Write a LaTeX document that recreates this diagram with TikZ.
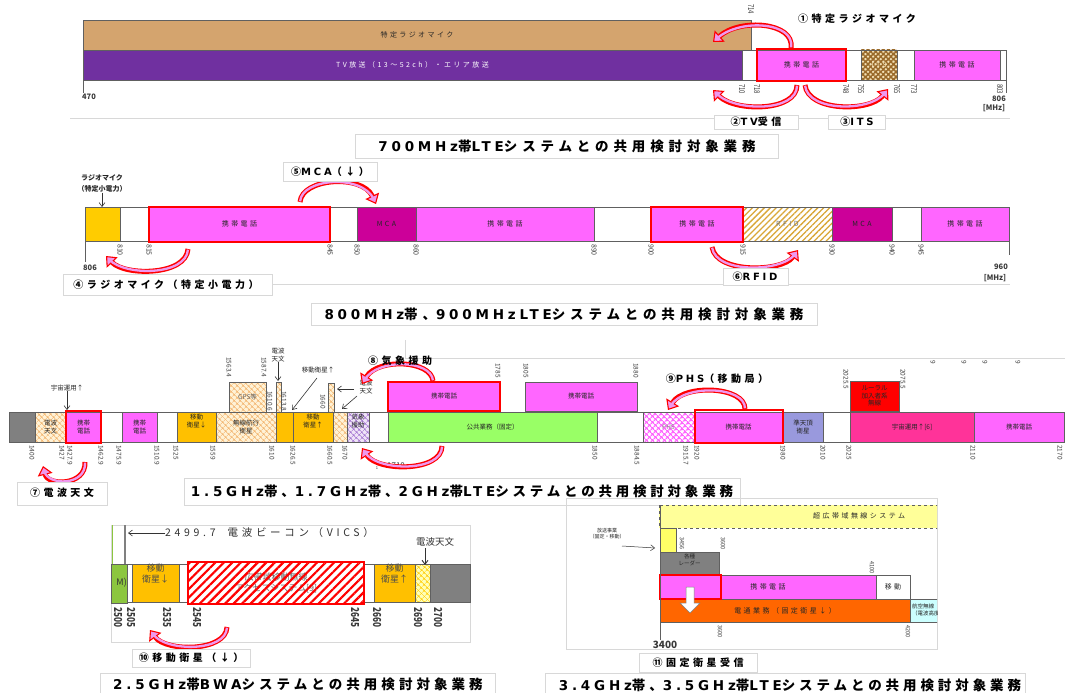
\documentclass[tikz,border=0pt]{standalone}
\usepackage{fontspec}
\usepackage{graphicx}
\setmainfont{Noto Sans CJK JP}
\newfontfamily\jpw[LetterSpace=35]{Noto Sans CJK JP}
\newfontfamily\jpc[LetterSpace=36]{Noto Sans CJK JP}
\newfontfamily\latb[LetterSpace=28]{DejaVu Sans}
\usetikzlibrary{arrows.meta,patterns.meta}
\definecolor{tanc}{HTML}{D4A46E}
\definecolor{purp}{HTML}{7030A0}
\definecolor{pinkc}{HTML}{FF66FF}
\definecolor{mcac}{HTML}{CC0099}
\definecolor{yelc}{HTML}{FFC000}
\definecolor{micc}{HTML}{FFCC00}
\definecolor{grnc}{HTML}{99FF66}
\definecolor{lavc}{HTML}{9999DD}
\definecolor{hotc}{HTML}{FF3399}
\definecolor{orgc}{HTML}{FF6600}
\definecolor{cyac}{HTML}{CCFFFF}
\definecolor{ltyc}{HTML}{FFFF99}
\definecolor{yl2c}{HTML}{FFFF66}
\definecolor{gryc}{HTML}{808080}
\definecolor{arrp}{HTML}{EE99EE}
\definecolor{bdc}{HTML}{606060}
\definecolor{fntc}{HTML}{D8D8D8}
\definecolor{tkc}{HTML}{3A3A3A}
\definecolor{creamc}{HTML}{FFF2D6}
\definecolor{hatc}{HTML}{F2B36B}
\definecolor{itsb}{HTML}{9A6A2A}
\definecolor{itsf}{HTML}{F3E2B8}
\definecolor{rfidc}{HTML}{D9A636}
\definecolor{wxf}{HTML}{EFE3F7}
\definecolor{wxh}{HTML}{A070D0}
\definecolor{bwgrn}{HTML}{8CC63F}
\definecolor{ruralc}{HTML}{FF0000}
\tikzset{
 blk/.style={draw=bdc, line width=0.5pt},
 xo/.style={preaction={fill=creamc}, pattern={Hatch[angle=45,distance=4pt,line width=0.6pt]}, pattern color=hatc},
 its/.style={preaction={fill=itsf}, pattern={Hatch[angle=45,distance=3.6pt,line width=1.5pt]}, pattern color=itsb},
 rfid/.style={preaction={fill=white}, pattern={Lines[angle=45,distance=4.2pt,line width=1.3pt]}, pattern color=rfidc},
 phs/.style={preaction={fill=white}, pattern={Hatch[angle=45,distance=4pt,line width=1.3pt]}, pattern color=pinkc},
 wx/.style={preaction={fill=wxf}, pattern={Hatch[angle=45,distance=4pt,line width=0.6pt]}, pattern color=wxh},
 lb/.style={font=\jpw\fontsize{7}{8}\selectfont, align=center, inner sep=0pt, text=black!85},
 lb3/.style={font=\fontsize{6.5}{7.8}\selectfont, align=center, inner sep=0pt, text=black!85},
 lb4/.style={font=\fontsize{9}{11.5}\selectfont, align=center, inner sep=0pt, text=black!70},
 tk/.style={rotate=-90, anchor=west, inner sep=0pt, text=tkc, font=\fontsize{7}{8}\selectfont},
 num/.style={inner sep=0pt, text=tkc, font=\bfseries\fontsize{7.5}{8}\selectfont},
 captxt/.style={font=\jpc\bfseries\fontsize{13.5}{15}\selectfont, inner sep=0pt},
 notetxt/.style={font=\jpw\bfseries\fontsize{10}{12}\selectfont, inner sep=0pt},
 fbox/.style={draw=fntc, fill=white, line width=0.6pt},
 fline/.style={draw=fntc, line width=0.6pt},
 redbox/.style={draw=red, line width=2pt},
 fatout/.style={draw=red, line width=5pt, -{Triangle[length=9pt,width=15pt,fill=arrp,line width=1.1pt]}},
 fatin/.style={draw=arrp, line width=2.3pt, shorten >=5.5pt, shorten <=0.7pt},
 thinarr/.style={draw=black!80, line width=0.6pt, -{Straight Barb[length=4pt,width=6pt]}},
}
\newcounter{nd}
\newcommand\band[7]{\draw[blk,#1] (#2,#3) rectangle (#4,#5);\stepcounter{nd}\node[lb,#6] (b\arabic{nd}) at ({(#2+#4)/2},{(#3+#5)/2}) {#7};}
\newcommand\gap[4]{\draw[blk,fill=white] (#1,#2) rectangle (#3,#4);}
\newcommand\tksc{1}
\newcommand\tkl[3]{\stepcounter{nd}\node[tk] (t\arabic{nd}) at (#1,#2) {\scalebox{\tksc}[1]{#3}};}
\newcommand\fatarrow[1]{\draw[fatout] #1; \draw[fatin] #1;}
\newcommand\lt[1]{{\latb #1}}
\begin{document}
\begin{tikzpicture}[x=1pt,y=-1pt]
\useasboundingbox (0,0) rectangle (1065,693);
\fill[white] (0,0) rectangle (1065,693);

%%%%%%%%%%%%%%%% Section 1 : 700MHz
\draw[fline] (70,118) -- (1010,118);
\band{fill=tanc}{83}{20}{751}{50}{}{特定ラジオマイク}
\band{fill=purp}{83}{50}{742}{80}{text=white}{TV放送（13〜52ch）・エリア放送}
\gap{742}{50}{757}{80}
\band{fill=pinkc}{757}{50}{846}{80}{}{携帯電話}
\gap{846}{50}{861}{80}
\band{its}{861}{50}{897}{80}{text=itsf}{ITS}
\gap{897}{50}{914}{80}
\band{fill=pinkc}{914}{50}{1000}{80}{}{携帯電話}
\gap{1000}{50}{1006}{80}
\draw[redbox] (757,49) rectangle (846,81);
\draw[bdc] (83,80) -- (83,93) (1006,80) -- (1006,93);
\renewcommand\tksc{0.75}
\begin{scope}[tk/.append style={font=\fontsize{8}{9}\selectfont}]
\tkl{751}{4}{714}
\tkl{742}{84}{710}\tkl{757}{84}{718}\tkl{846}{84}{748}\tkl{861}{84}{755}
\tkl{897}{84}{765}\tkl{914}{84}{773}\tkl{1000}{84}{803}
\end{scope}
\node[num] (l470) at (89,97) {470};
\node[num] (l806) at (999,99) {806};
\node[num] (lmhz1) at (994,108) {[MHz]};
\coordinate (a1s) at (791,48); \coordinate (a1e) at (713,42);
\fatarrow{(a1s) .. controls (795,22) and (740,18) .. (a1e)}
\coordinate (a2s) at (797,85); \coordinate (a2e) at (713,90);
\fatarrow{(a2s) .. controls (797,112) and (735,112) .. (a2e)}
\coordinate (a3s) at (805,85); \coordinate (a3e) at (888,89);
\fatarrow{(a3s) .. controls (808,112) and (870,112) .. (a3e)}
\node[notetxt] (n1) at (857,19) {①特定ラジオマイク};
\draw[fbox] (714,115) rectangle (798,129); \node[notetxt] (n2) at (756,122) {②\lt{TV}受信};
\draw[fbox] (828,115) rectangle (885,129); \node[notetxt] (n3) at (857,122) {③\lt{ITS}};
\draw[fbox] (355,134) rectangle (778,158);
\node[captxt] (c1) at (567,146) {\lt{700MHz}帯\lt{LTE}システムとの共用検討対象業務};

%%%%%%%%%%%%%%%% Section 2 : 800/900MHz
\draw[fline] (272,284) -- (1010,284);
\draw[blk,fill=micc] (85,207) rectangle (120,241);
\gap{120}{207}{149}{241}
\band{fill=pinkc}{149}{207}{330}{241}{}{携帯電話}
\gap{330}{207}{357}{241}
\band{fill=mcac}{357}{207}{416}{241}{}{MCA}
\band{fill=pinkc}{416}{207}{594}{241}{}{携帯電話}
\gap{594}{207}{651}{241}
\band{fill=pinkc}{651}{207}{743}{241}{}{携帯電話}
\band{rfid}{743}{207}{832}{241}{text=black!55}{RFID}
\band{fill=mcac}{832}{207}{892}{241}{}{MCA}
\gap{892}{207}{921}{241}
\band{fill=pinkc}{921}{207}{1009}{241}{}{携帯電話}
\draw[redbox] (149,207) rectangle (330,242);
\draw[redbox] (651,207) rectangle (743,242);
\draw[bdc] (85,241) -- (85,262) (1009,241) -- (1009,255);
\renewcommand\tksc{1}
\tkl{120}{244}{810}\tkl{149}{244}{815}\tkl{330}{244}{845}\tkl{357}{244}{850}
\tkl{416}{244}{860}\tkl{594}{244}{890}\tkl{651}{244}{900}\tkl{743}{244}{915}
\tkl{832}{244}{930}\tkl{892}{244}{940}\tkl{921}{244}{945}
\node[num] (l806b) at (90,268) {806};
\node[num] (l960) at (1001,267) {960};
\node[num] (lmhz2) at (995,278) {[MHz]};
\node[lb3, font=\bfseries\fontsize{7}{8}\selectfont] (rm1) at (102,178) {ラジオマイク};
\node[lb3, font=\bfseries\fontsize{7}{8}\selectfont] (rm2) at (102,189) {（特定小電力）};
\coordinate (rmt) at (102,207);
\draw[thinarr] (rm2.south) -- (rmt);
\coordinate (a5s) at (300,202); \coordinate (a5e) at (376,204);
\fatarrow{(a5s) .. controls (302,178) and (362,174) .. (a5e)}
\coordinate (a4s) at (188,249); \coordinate (a4e) at (106,256);
\fatarrow{(a4s) .. controls (186,276) and (125,276) .. (a4e)}
\coordinate (a6s) at (712,247); \coordinate (a6e) at (798,250);
\fatarrow{(a6s) .. controls (716,274) and (782,272) .. (a6e)}
\draw[fbox] (283,162) rectangle (377,181); \node[notetxt] (n5) at (330,172) {⑤\lt{MCA}（↓）};
\draw[fbox] (63,274) rectangle (272,295); \node[notetxt] (n4) at (166,285) {④ラジオマイク（特定小電力）};
\draw[fbox] (723,268) rectangle (788,285); \node[notetxt] (n6) at (755,277) {⑥\lt{RFID}};
\draw[fbox] (311,303) rectangle (817,325);
\node[captxt] (c2) at (564,314) {\lt{800MHz}帯、\lt{900MHzLTE}システムとの共用検討対象業務};

%%%%%%%%%%%%%%%% Section 3 : 1.5/1.7/2GHz
\draw[fline] (405,340) -- (405,358) -- (1065,358);
\draw[blk,fill=gryc] (9,412) rectangle (35,442);
\band{xo}{35}{412}{66}{442}{lb3}{電波\\天文}
\band{fill=pinkc}{66}{412}{101}{442}{lb3}{携帯\\電話}
\gap{101}{412}{122}{442}
\band{fill=pinkc}{122}{412}{157}{442}{lb3}{携帯\\電話}
\gap{157}{412}{177}{442}
\band{fill=yelc}{177}{412}{216}{442}{lb3}{移動\\衛星↓\\[4]}
\band{xo}{216}{412}{276}{442}{lb3}{無線航行\\衛星}
\draw[blk,fill=yelc] (276,412) rectangle (293,442);
\draw[black,line width=1pt] (293,412) -- (293,442);
\band{fill=yelc}{293}{412}{333}{442}{lb3}{移動\\衛星↑\\[4]}
\draw[blk,xo] (333,412) rectangle (347,442);
\band{wx}{347}{412}{369}{442}{lb3}{気象\\援助\\[5]}
\draw[bdc,line width=0.5pt] (369,412) -- (388,412) (369,442) -- (388,442);
\band{fill=grnc}{388}{412}{597}{442}{lb3}{公共業務（固定）}
\gap{597}{412}{643}{442}
\band{phs}{643}{412}{694}{442}{lb3,text=black!45}{PHS}
\band{fill=pinkc}{694}{412}{783}{442}{lb3}{携帯電話}
\band{fill=lavc}{783}{412}{823}{442}{lb3}{準天頂\\衛星}
\gap{823}{412}{850}{442}
\band{fill=hotc}{850}{412}{974}{442}{lb3}{宇宙運用↑[6]}
\band{fill=pinkc}{974}{412}{1064}{442}{lb3}{携帯電話}
\draw[blk,fill=lavc] (1064,412) rectangle (1070,442);
% upper row
\band{xo}{229}{382}{266}{412}{lb3,text=black!60}{GPS等}
\draw[blk,xo] (276,382) rectangle (281,412);
\draw[blk,xo] (328,383) rectangle (334,412);
\band{fill=pinkc}{388}{382}{500}{411}{lb3}{携帯電話}
\band{fill=pinkc}{525}{382}{637}{411}{lb3}{携帯電話}
\band{fill=ruralc}{850}{381}{899}{411}{lb3}{ルーラル\\加入者系\\無線}
\draw[redbox] (66,411) rectangle (101,443);
\draw[redbox] (388,382) rectangle (500,411);
\draw[redbox] (695,410) rectangle (783,443);
% ticks
\begin{scope}[tk/.append style={font=\fontsize{6.5}{7}\selectfont}]
\tkl{32}{445}{1400}\tkl{62}{445}{1427}\tkl{70}{445}{1427.9}\tkl{101}{445}{1462.9}
\tkl{119}{445}{1475.9}\tkl{157}{445}{1510.9}\tkl{176}{445}{1525}\tkl{213}{445}{1559}
\tkl{272}{445}{1610}\tkl{293}{445}{1626.5}\tkl{330}{445}{1660.5}\tkl{345}{445}{1670}
\tkl{595}{445}{1850}\tkl{637}{445}{1884.5}\tkl{686}{445}{1915.7}\tkl{697}{445}{1920}
\tkl{783}{445}{1980}\tkl{823}{445}{2010}\tkl{849}{445}{2025}\tkl{973}{445}{2110}\tkl{1060}{445}{2170}
\tkl{229}{357}{1563.4}\tkl{264}{357}{1587.4}\tkl{270}{391}{1610.6}\tkl{284}{391}{1613.8}
\tkl{323}{394}{1660}
\tkl{498}{363}{1785}\tkl{526}{363}{1805}\tkl{636}{363}{1880}
\tkl{846}{369}{2025.5}\tkl{903}{369}{2075.5}
\tkl{933}{360}{9}\tkl{964}{360}{9}\tkl{985}{360}{9}\tkl{1018}{360}{9}
\end{scope}
\node[num, font=\fontsize{4}{5}\selectfont] (l1a) at (377,468) {1};
\node[num, font=\fontsize{8}{9}\selectfont] (l1710) at (396,466) {1710};
% small labels with arrows
\node[lb3] (uq) at (67,388) {宇宙運用↑};
\coordinate (uqt) at (67,410);
\draw[thinarr] (uq.south) -- (uqt);
\node[lb3] (ra1) at (278,355) {電波\\天文};
\coordinate (ra1t) at (278,381);
\draw[thinarr] (ra1.south) -- (ra1t);
\node[lb3] (ms) at (318,370) {移動衛星↑};
\coordinate (mss) at (317,378); \coordinate (mst) at (292,410);
\draw[thinarr] (mss) -- (mst);
\node[lb3] (ra2) at (366,387) {電波\\天文};
\coordinate (ra2a) at (354,389); \coordinate (ra2b) at (337,389);
\coordinate (ra2c) at (357,396); \coordinate (ra2d) at (342,409);
\draw[thinarr] (ra2a) -- (ra2b);
\draw[thinarr] (ra2c) -- (ra2d);
% fat arrows
\coordinate (a7s) at (85,462); \coordinate (a7e) at (43,466);
\fatarrow{(a7s) .. controls (86,486) and (48,486) .. (a7e)}
\coordinate (a8s) at (433,381); \coordinate (a8e) at (362,384);
\fatarrow{(a8s) .. controls (431,360) and (378,358) .. (a8e)}
\coordinate (a8bs) at (442,446); \coordinate (a8be) at (362,448);
\fatarrow{(a8bs) .. controls (442,472) and (378,472) .. (a8be)}
\coordinate (a9s) at (745,409); \coordinate (a9e) at (668,410);
\fatarrow{(a9s) .. controls (745,386) and (684,384) .. (a9e)}
\node[notetxt] (n8) at (400,361) {⑧気象援助};
\node[notetxt] (n9) at (717,379) {⑨\lt{PHS}（移動局）};
\draw[fbox] (17,482) rectangle (107,505); \node[notetxt] (n7) at (62,493) {⑦電波天文};
\draw[fbox] (184,478) rectangle (740,505);
\node[captxt] (c3) at (462,491) {\addfontfeature{LetterSpace=28}\lt{1.5GHz}帯、\lt{1.7GHz}帯、\lt{2GHz}帯\lt{LTE}システムとの共用検討対象業務};

%%%%%%%%%%%%%%%% Section 4 : 2.5GHz
\draw[fline] (111,525) rectangle (470,642);
\draw[bwgrn, line width=1pt] (112,525) -- (112,564);
\draw[gryc, line width=1.6pt] (125,525) -- (125,564);
\draw[blk,fill=bwgrn] (111,564) rectangle (127,603);
\node[lb4, anchor=east, text=black!80] (bm) at (127,583) {M)};
\draw[bdc,line width=0.5pt] (127,564) -- (470,564) (127,602) -- (470,602);
\band{fill=yelc}{132}{564}{179}{602}{lb4}{移動\\衛星↓\\[8]}
\fill[white] (188,562) rectangle (364,604);
\stepcounter{nd}\node[lb4, text=black!60] (bwt) at (276,583) {広帯域移動無線\\アクセスシステム[9]};
\path[pattern={Lines[angle=45,distance=6pt,line width=2.2pt]}, pattern color=red] (188,562) rectangle (364,604);
\draw[redbox] (188,562) rectangle (364,604);
\band{fill=yelc}{374}{564}{415}{602}{lb4}{移動\\衛星↑\\[8]}
\draw[blk,preaction={fill=ltyc!70}, pattern={Hatch[angle=45,distance=4pt,line width=0.6pt]}, pattern color=micc] (415,564) rectangle (430,602);
\draw[blk,fill=gryc] (430,564) rectangle (470,602);
\node[lb4, anchor=west, font=\jpw\fontsize{10.5}{12}\selectfont, text=black!80] (vics) at (165,533) {2499.7\ \ 電波ビーコン（VICS）};
\coordinate (vicst) at (128,533);
\draw[thinarr] (vics.west) -- (vicst);
\node[lb4, font=\fontsize{9.5}{11}\selectfont, text=black!80] (ra3) at (435,542) {電波天文};
\coordinate (ra3s) at (425,548); \coordinate (ra3t) at (425,565);
\draw[thinarr, line width=0.9pt] (ra3s) -- (ra3t);
\renewcommand\tksc{0.75}
\begin{scope}[tk/.append style={font=\bfseries\fontsize{11}{12}\selectfont}]
\tkl{118}{607}{2500}\tkl{131}{607}{2505}\tkl{167}{607}{2535}\tkl{197}{607}{2545}
\tkl{355}{607}{2645}\tkl{377}{607}{2660}\tkl{418}{607}{2690}\tkl{438}{607}{2700}
\end{scope}
\coordinate (a10s) at (227,627); \coordinate (a10e) at (150,630);
\fatarrow{(a10s) .. controls (226,652) and (166,652) .. (a10e)}
\draw[fbox] (132,649) rectangle (250,667); \node[notetxt] (n10) at (191,658) {⑩移動衛星（↓）};
\draw[fbox] (100,673) rectangle (495,694);
\node[captxt] (c4) at (298,684) {\addfontfeature{LetterSpace=30}\lt{2.5GHz}帯\lt{BWA}システムとの共用検討対象業務};

%%%%%%%%%%%%%%%% Section 5 : 3.4/3.5GHz
\draw[fline] (566,498) rectangle (937,649);
\begin{scope}
\clip (566,498) rectangle (937,649);
\draw[fill=ltyc, draw=bdc, dashed, line width=0.5pt] (659,505) rectangle (950,528);
\node[lb, anchor=west] (uwb) at (813,516) {超広帯域無線システム};
\draw[blk,fill=yl2c] (660,528) rectangle (676,552);
\band{fill=gryc}{660}{552}{719}{575}{lb3,font=\fontsize{5.5}{7}\selectfont}{各種\\レーダー\\[1]}
\draw[blk,fill=pinkc] (660,575) rectangle (876,599);
\node[lb] (cp5) at (768,587) {携帯電話};
\band{fill=white}{876}{575}{910}{599}{}{移動}
\band{fill=orgc}{660}{599}{910}{622}{}{電通業務（固定衛星↓）}
\draw[blk,fill=cyac] (910,599) rectangle (950,622);
\node[lb3, anchor=west, align=left, font=\fontsize{5.5}{6.5}\selectfont] (koku) at (912,610) {航空無線\\（電波高度計）};
\draw[redbox] (660,575) rectangle (721,599);
\draw[fill=white, draw=gray, line width=0.5pt] (686,587) -- (694,587) -- (694,603) -- (700,603) -- (690,613) -- (680,603) -- (686,603) -- cycle;
\draw[bdc, line width=0.8pt] (660,505) -- (660,640);
\renewcommand\tksc{0.9}
\begin{scope}[tk/.append style={font=\fontsize{6}{7}\selectfont}]
\tkl{682}{537}{3456}\tkl{723}{537}{3600}\tkl{872}{561}{4100}
\tkl{720}{625}{3600}\tkl{908}{625}{4200}
\end{scope}
\end{scope}
\node[lb3, font=\fontsize{5}{5.8}\selectfont] (hs) at (607,537) {放送事業\\（固定・移動）\\[2]};
\coordinate (hss) at (622,546); \coordinate (hst) at (655,548);
\draw[thinarr, line width=0.5pt] (hss) -- (hst);
\node[num, font=\bfseries\fontsize{10}{11}\selectfont] (l3400) at (665,645) {3400};
\draw[fbox] (639,653) rectangle (757,672); \node[notetxt] (n11) at (698,663) {⑪固定衛星受信};
\draw[fbox] (545,673) rectangle (1025,694);
\node[captxt] (c5) at (790,685) {\addfontfeature{LetterSpace=29}\lt{3.4GHz}帯、\lt{3.5GHz}帯\lt{LTE}システムとの共用検討対象業務};
\end{tikzpicture}
\end{document}
